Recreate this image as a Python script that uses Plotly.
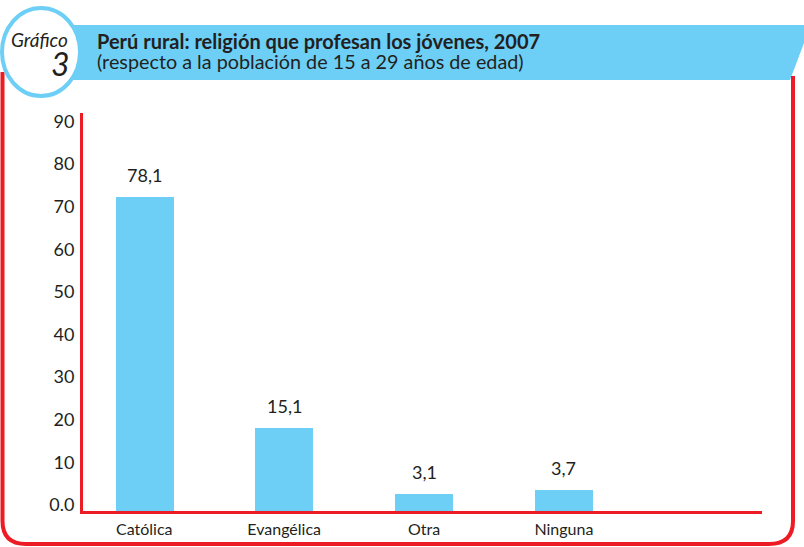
import plotly.graph_objects as go

# datos del gráfico
categorias = ['Católica', 'Evangélica', 'Otra', 'Ninguna']
etiquetas = ['78,1', '15,1', '3,1', '3,7']      # valores impresos sobre las barras
alturas = [73.6, 19.4, 3.9, 4.9]               # altura dibujada de cada barra
ticks_y = [0, 10, 20, 30, 40, 50, 60, 70, 80, 90]
ticks_y_txt = ['0.0', '10', '20', '30', '40', '50', '60', '70', '80', '90']

W, H = 804, 547
celeste = '#6dcff6'
rojo = '#ed1c24'
texto = '#231f20'
fuente = 'Lato'

def px(x):
    return x / W

def py(y):
    return 1 - y / H

def p(a, b):
    return '%.5f,%.5f' % (px(a), py(b))

pos = list(range(len(categorias)))

fig = go.Figure()
fig.add_trace(go.Bar(x=pos, y=alturas, width=0.415, marker_color=celeste,
                     marker_line_width=0, hoverinfo='skip'))

for i in range(len(categorias)):
    fig.add_annotation(x=pos[i], y=alturas[i], text=etiquetas[i], showarrow=False,
                       yanchor='middle', yshift=22,
                       font=dict(family=fuente, size=18, color=texto))

# banda celeste del título
banda = ('M ' + p(40, 25) + ' L ' + p(804, 25) + ' L ' + p(804, 43) +
         ' L ' + p(790, 80) + ' L ' + p(40, 80) + ' Z')
fig.add_shape(type='path', path=banda, xref='paper', yref='paper',
              fillcolor=celeste, line_width=0)
# marco rojo
marco = ('M ' + p(2.5, 72) + ' L ' + p(2.5, 521) + ' Q ' + p(2.5, 544) + ' ' + p(26, 544) +
         ' L ' + p(769, 544) + ' Q ' + p(793, 544) + ' ' + p(793, 521) + ' L ' + p(793, 76))
fig.add_shape(type='path', path=marco, xref='paper', yref='paper',
              line=dict(color=rojo, width=4))
# círculo
fig.add_shape(type='circle', xref='paper', yref='paper',
              x0=px(2), x1=px(80), y0=py(96), y1=py(8),
              fillcolor='white', line=dict(color=celeste, width=4))

fig.add_annotation(x=px(9), y=py(40), xref='paper', yref='paper', text='<i>Gráfico</i>',
                   showarrow=False, xanchor='left', yanchor='middle',
                   font=dict(family=fuente, size=19, color=texto))
fig.add_annotation(x=px(72), y=py(64), xref='paper', yref='paper', text='<i>3</i>',
                   showarrow=False, xanchor='right', yanchor='middle',
                   font=dict(family=fuente, size=32, color=texto))
fig.add_annotation(x=px(95), y=py(41), xref='paper', yref='paper',
                   text='<b>Perú rural: religión que profesan los jóvenes, 2007</b>',
                   showarrow=False, xanchor='left', yanchor='middle',
                   font=dict(family=fuente, size=20, color=texto))
fig.add_annotation(x=px(95), y=py(61), xref='paper', yref='paper',
                   text='(respecto a la población de 15 a 29 años de edad)',
                   showarrow=False, xanchor='left', yanchor='middle',
                   font=dict(family=fuente, size=19.8, color=texto))

fig.update_layout(width=W, height=H, margin=dict(l=0, r=0, t=0, b=0),
                  paper_bgcolor='white', plot_bgcolor='white', showlegend=False,
                  template='none', bargap=0)
fig.update_xaxes(domain=[px(82.7), px(762)], range=[-0.44, 4.416],
                 tickmode='array', tickvals=pos, ticktext=categorias,
                 showline=True, linecolor=rojo, linewidth=2.5, showgrid=False,
                 zeroline=False, ticks='', ticklabelstandoff=2, automargin=False,
                 tickfont=dict(family=fuente, size=16, color=texto))
fig.update_yaxes(domain=[py(511), py(113)], range=[0, 93.4],
                 tickmode='array', tickvals=ticks_y, ticktext=ticks_y_txt,
                 showline=True, linecolor=rojo, linewidth=2.5, showgrid=False,
                 zeroline=False, ticks='', ticklabelstandoff=2, ticklabelshift=-6,
                 automargin=False, tickfont=dict(family=fuente, size=18, color=texto))

fig.write_html('out.html', config={'displayModeBar': False},
               post_script="document.body.style.margin='0';")
